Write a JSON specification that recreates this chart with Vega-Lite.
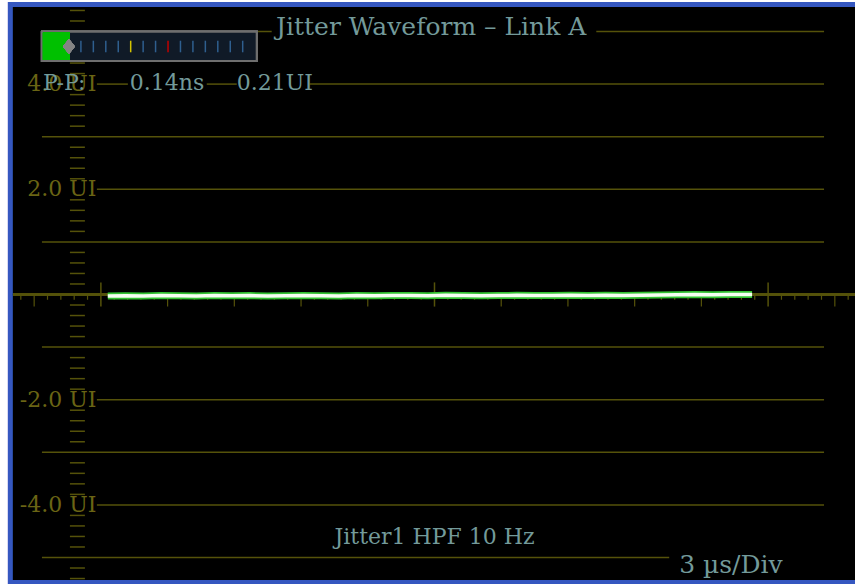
{
  "$schema": "https://vega.github.io/schema/vega-lite/v6.json",
  "width": 856,
  "height": 584,
  "padding": 0,
  "autosize": {"type": "fit", "contains": "padding"},
  "background": "#ffffff",
  "config": {"view": {"stroke": null}},
  "datasets": {
    "grid": [
      {"x1": 7.051, "x2": 7.68, "y": 5},
      {"x1": 22.275, "x2": 32.515, "y": 5},
      {"x1": -0.18, "x2": 1.213, "y": 4},
      {"x1": 4.76, "x2": 6.108, "y": 4},
      {"x1": 9.386, "x2": 32.515, "y": 4},
      {"x1": -2.65, "x2": 32.515, "y": 3},
      {"x1": -0.18, "x2": 32.515, "y": 2},
      {"x1": -2.65, "x2": 32.515, "y": 1},
      {"x1": -2.65, "x2": 32.515, "y": -1},
      {"x1": -0.18, "x2": 32.515, "y": -2},
      {"x1": -2.65, "x2": 32.515, "y": -3},
      {"x1": -0.18, "x2": 32.515, "y": -4},
      {"x1": -2.65, "x2": 25.553, "y": -5}
    ],
    "vdash": [
      {"y": 5.4}, {"y": 5.2}, {"y": 4.8}, {"y": 4.6}, {"y": 4.4}, {"y": 4.2},
      {"y": 3.8}, {"y": 3.6}, {"y": 3.4}, {"y": 3.2},
      {"y": 2.8}, {"y": 2.6}, {"y": 2.4}, {"y": 2.2},
      {"y": 1.8}, {"y": 1.6}, {"y": 1.4}, {"y": 1.2},
      {"y": 0.8}, {"y": 0.6}, {"y": 0.4}, {"y": 0.2},
      {"y": -0.2}, {"y": -0.4}, {"y": -0.6}, {"y": -0.8},
      {"y": -1.2}, {"y": -1.4}, {"y": -1.6}, {"y": -1.8},
      {"y": -2.2}, {"y": -2.4}, {"y": -2.6}, {"y": -2.8},
      {"y": -3.2}, {"y": -3.4}, {"y": -3.6}, {"y": -3.8},
      {"y": -4.2}, {"y": -4.4}, {"y": -4.6}, {"y": -4.8},
      {"y": -5.2}, {"y": -5.4}
    ],
    "minor": [
      {"x": -3.6}, {"x": -2.4}, {"x": -1.8}, {"x": -1.2}, {"x": -0.6},
      {"x": 0.6}, {"x": 1.2}, {"x": 1.8}, {"x": 2.4},
      {"x": 3.6}, {"x": 4.2}, {"x": 4.8}, {"x": 5.4},
      {"x": 6.6}, {"x": 7.2}, {"x": 7.8}, {"x": 8.4},
      {"x": 9.6}, {"x": 10.2}, {"x": 10.8}, {"x": 11.4},
      {"x": 12.6}, {"x": 13.2}, {"x": 13.8}, {"x": 14.4},
      {"x": 15.6}, {"x": 16.2}, {"x": 16.8}, {"x": 17.4},
      {"x": 18.6}, {"x": 19.2}, {"x": 19.8}, {"x": 20.4},
      {"x": 21.6}, {"x": 22.2}, {"x": 22.8}, {"x": 23.4},
      {"x": 24.6}, {"x": 25.2}, {"x": 25.8}, {"x": 26.4},
      {"x": 27.6}, {"x": 28.2}, {"x": 28.8}, {"x": 29.4},
      {"x": 30.6}, {"x": 31.2}, {"x": 31.8}, {"x": 32.4}, {"x": 33.6}
    ],
    "major": [
      {"x": -3}, {"x": 3}, {"x": 6}, {"x": 9}, {"x": 12}, {"x": 18}, {"x": 21}, {"x": 24}, {"x": 27}, {"x": 33}
    ],
    "tall": [{"x": 0}, {"x": 15}, {"x": 30}],
    "wave": [
      {"t": 0.31, "ui": -0.03}, {"t": 1.1, "ui": -0.025}, {"t": 1.9, "ui": -0.03},
      {"t": 2.7, "ui": -0.02}, {"t": 3.5, "ui": -0.025}, {"t": 4.3, "ui": -0.03},
      {"t": 5.1, "ui": -0.02}, {"t": 5.9, "ui": -0.025}, {"t": 6.7, "ui": -0.02},
      {"t": 7.5, "ui": -0.03}, {"t": 8.3, "ui": -0.025}, {"t": 9.1, "ui": -0.02},
      {"t": 9.9, "ui": -0.025}, {"t": 10.7, "ui": -0.03}, {"t": 11.5, "ui": -0.02},
      {"t": 12.3, "ui": -0.025}, {"t": 13.1, "ui": -0.02}, {"t": 13.9, "ui": -0.02},
      {"t": 14.7, "ui": -0.025}, {"t": 15.5, "ui": -0.015}, {"t": 16.3, "ui": -0.02},
      {"t": 17.1, "ui": -0.025}, {"t": 17.9, "ui": -0.02}, {"t": 18.7, "ui": -0.015},
      {"t": 19.5, "ui": -0.02}, {"t": 20.3, "ui": -0.02}, {"t": 21.1, "ui": -0.015},
      {"t": 21.9, "ui": -0.02}, {"t": 22.7, "ui": -0.015}, {"t": 23.5, "ui": -0.02},
      {"t": 24.3, "ui": -0.015}, {"t": 25.1, "ui": -0.01}, {"t": 25.9, "ui": -0.005},
      {"t": 26.7, "ui": 0}, {"t": 27.5, "ui": -0.005}, {"t": 28.3, "ui": 0},
      {"t": 29.28, "ui": 0}
    ],
    "meterTicks": [
      {"x": -0.898, "c": "n"}, {"x": -0.339, "c": "n"}, {"x": 0.221, "c": "n"},
      {"x": 0.781, "c": "n"}, {"x": 1.34, "c": "y"}, {"x": 1.9, "c": "n"},
      {"x": 2.459, "c": "n"}, {"x": 3.019, "c": "r"}, {"x": 3.578, "c": "n"},
      {"x": 4.138, "c": "n"}, {"x": 4.697, "c": "n"}, {"x": 5.257, "c": "n"},
      {"x": 5.817, "c": "n"}, {"x": 6.376, "c": "n"}
    ],
    "scaleLabels": [
      {"y": 4, "label": "4.0 UI"},
      {"y": 2, "label": "2.0 UI"},
      {"y": -2, "label": "-2.0 UI"},
      {"y": -4, "label": "-4.0 UI"}
    ],
    "readouts": [
      {"x": -2.605, "y": 4.02, "label": "P-P:"},
      {"x": 1.302, "y": 4.02, "label": "0.14ns"},
      {"x": 6.108, "y": 4.02, "label": "0.21UI"}
    ],
    "divLabel": [
      {"x": 26.0, "y": -5.14, "label": "3 µs/Div"}
    ],
    "title": [
      {"x": 14.85, "y": 5.086, "label": "Jitter Waveform – Link A"}
    ],
    "filter": [
      {"x": 15.0, "y": -4.61, "label": "Jitter1 HPF 10 Hz"}
    ]
  },
  "data": {"name": "grid"},
  "layer": [
    {
      "mark": {"type": "rect", "color": "#3557c0"},
      "encoding": {
        "x": {"datum": -4.177, "type": "quantitative", "scale": {"domain": [-4.536, 33.907], "nice": false, "zero": false}, "axis": null},
        "x2": {"datum": 33.907},
        "y": {"datum": 5.561, "type": "quantitative", "scale": {"domain": [-5.504, 5.599], "nice": false, "zero": false}, "axis": null},
        "y2": {"datum": -5.504}
      }
    },
    {
      "mark": {"type": "rect", "color": "#000000"},
      "encoding": {
        "x": {"datum": -3.952, "type": "quantitative"},
        "x2": {"datum": 33.907},
        "y": {"datum": 5.466, "type": "quantitative"},
        "y2": {"datum": -5.428}
      }
    },
    {
      "data": {"name": "grid"},
      "mark": {"type": "rule", "color": "#55520a", "strokeWidth": 1.5},
      "encoding": {
        "x": {"field": "x1", "type": "quantitative"},
        "x2": {"field": "x2"},
        "y": {"field": "y", "type": "quantitative"}
      }
    },
    {
      "data": {"name": "vdash"},
      "mark": {"type": "rule", "color": "#55520a", "strokeWidth": 1.5},
      "encoding": {
        "x": {"datum": -1.392, "type": "quantitative"},
        "x2": {"datum": -0.719},
        "y": {"field": "y", "type": "quantitative"}
      }
    },
    {
      "mark": {"type": "rule", "color": "#55520a", "strokeWidth": 2},
      "encoding": {
        "x": {"datum": -3.952, "type": "quantitative"},
        "x2": {"datum": 33.907},
        "y": {"datum": 0, "type": "quantitative"}
      }
    },
    {
      "data": {"name": "minor"},
      "mark": {"type": "rule", "color": "#55520a", "strokeWidth": 1.2},
      "encoding": {
        "x": {"field": "x", "type": "quantitative"},
        "y": {"datum": 0, "type": "quantitative"},
        "y2": {"datum": -0.1}
      }
    },
    {
      "data": {"name": "major"},
      "mark": {"type": "rule", "color": "#55520a", "strokeWidth": 1.2},
      "encoding": {
        "x": {"field": "x", "type": "quantitative"},
        "y": {"datum": 0, "type": "quantitative"},
        "y2": {"datum": -0.23}
      }
    },
    {
      "data": {"name": "tall"},
      "mark": {"type": "rule", "color": "#55520a", "strokeWidth": 1.5},
      "encoding": {
        "x": {"field": "x", "type": "quantitative"},
        "y": {"datum": 0.23, "type": "quantitative"},
        "y2": {"datum": -0.23}
      }
    },
    {
      "data": {"name": "wave"},
      "mark": {"type": "line", "color": "#33c233", "strokeWidth": 7, "strokeCap": "butt"},
      "encoding": {
        "x": {"field": "t", "type": "quantitative"},
        "y": {"field": "ui", "type": "quantitative"}
      }
    },
    {
      "data": {"name": "wave"},
      "mark": {"type": "line", "color": "#f6fff2", "strokeWidth": 3.5, "strokeCap": "butt"},
      "encoding": {
        "x": {"field": "t", "type": "quantitative"},
        "y": {"field": "ui", "type": "quantitative"}
      }
    },
    {
      "mark": {"type": "rect", "color": "#101a27", "stroke": "#6e6e6e", "strokeWidth": 2},
      "encoding": {
        "x": {"datum": -2.65, "type": "quantitative"},
        "x2": {"datum": 7.006},
        "y": {"datum": 4.996, "type": "quantitative"},
        "y2": {"datum": 4.439}
      }
    },
    {
      "mark": {"type": "rect", "color": "#00c000"},
      "encoding": {
        "x": {"datum": -2.605, "type": "quantitative"},
        "x2": {"datum": -1.392},
        "y": {"datum": 4.977, "type": "quantitative"},
        "y2": {"datum": 4.458}
      }
    },
    {
      "data": {"name": "meterTicks"},
      "mark": {"type": "rule", "strokeWidth": 1.5},
      "encoding": {
        "x": {"field": "x", "type": "quantitative"},
        "y": {"datum": 4.825, "type": "quantitative"},
        "y2": {"datum": 4.605},
        "color": {"field": "c", "type": "nominal", "scale": {"domain": ["n", "y", "r"], "range": ["#2f5f8f", "#d4c400", "#c00000"]}, "legend": null}
      }
    },
    {
      "mark": {"type": "point", "shape": "M-0.8,0L0,-1L0.8,0L0,1Z", "size": 225, "filled": true, "color": "#848484", "opacity": 1},
      "encoding": {
        "x": {"datum": -1.437, "type": "quantitative"},
        "y": {"datum": 4.715, "type": "quantitative"}
      }
    },
    {
      "data": {"name": "scaleLabels"},
      "mark": {"type": "text", "align": "right", "baseline": "middle", "font": "DejaVu Serif", "fontSize": 22, "color": "#6a6414"},
      "encoding": {
        "x": {"datum": -0.2, "type": "quantitative"},
        "y": {"field": "y", "type": "quantitative"},
        "text": {"field": "label"}
      }
    },
    {
      "data": {"name": "readouts"},
      "mark": {"type": "text", "align": "left", "baseline": "middle", "font": "DejaVu Serif", "fontSize": 22, "color": "#739a9a"},
      "encoding": {
        "x": {"field": "x", "type": "quantitative"},
        "y": {"field": "y", "type": "quantitative"},
        "text": {"field": "label"}
      }
    },
    {
      "data": {"name": "divLabel"},
      "mark": {"type": "text", "align": "left", "baseline": "middle", "font": "DejaVu Serif", "fontSize": 25, "color": "#739a9a"},
      "encoding": {
        "x": {"field": "x", "type": "quantitative"},
        "y": {"field": "y", "type": "quantitative"},
        "text": {"field": "label"}
      }
    },
    {
      "data": {"name": "title"},
      "mark": {"type": "text", "align": "center", "baseline": "middle", "font": "DejaVu Serif", "fontSize": 25, "color": "#739a9a"},
      "encoding": {
        "x": {"field": "x", "type": "quantitative"},
        "y": {"field": "y", "type": "quantitative"},
        "text": {"field": "label"}
      }
    },
    {
      "data": {"name": "filter"},
      "mark": {"type": "text", "align": "center", "baseline": "middle", "font": "DejaVu Serif", "fontSize": 22, "color": "#739a9a"},
      "encoding": {
        "x": {"field": "x", "type": "quantitative"},
        "y": {"field": "y", "type": "quantitative"},
        "text": {"field": "label"}
      }
    }
  ]
}
